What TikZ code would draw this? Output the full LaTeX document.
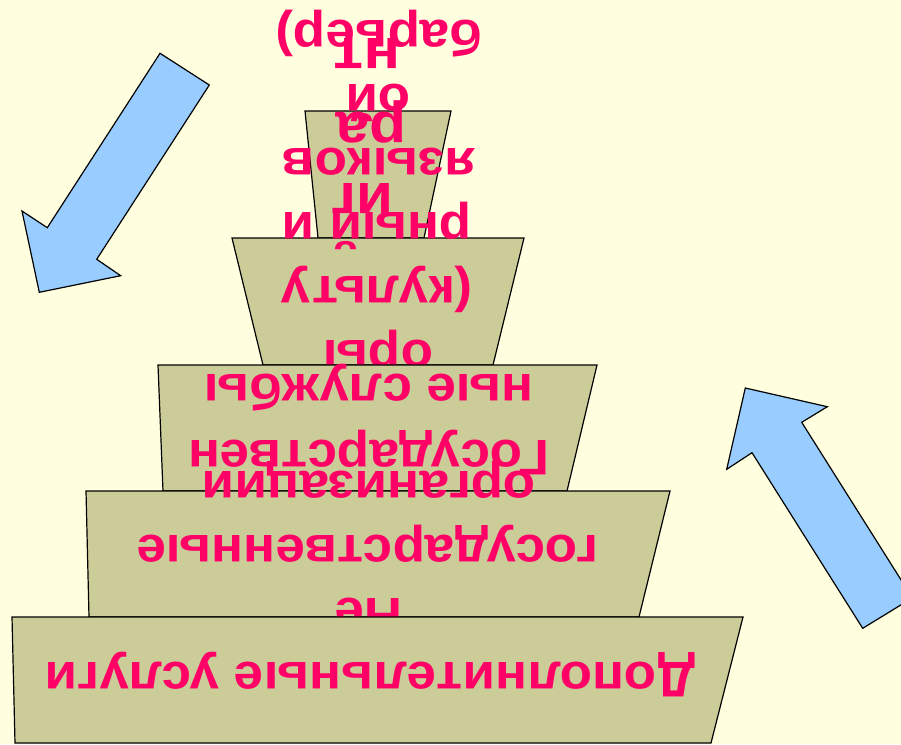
\documentclass[tikz,border=0pt]{standalone}
\usepackage{fontspec}
\setmainfont{Liberation Sans}[FakeStretch=1.06]
\definecolor{bgcol}{RGB}{255,255,224}
\definecolor{bandcol}{RGB}{204,204,153}
\definecolor{arrcol}{RGB}{153,204,255}
\definecolor{txtcol}{RGB}{255,0,102}
\begin{document}
\begin{tikzpicture}[x=1pt,y=-1pt,
  bandbox/.style={draw=black,line width=1.2pt,fill=bandcol,line join=miter},
  arrowbox/.style={draw=black,line width=1.2pt,fill=arrcol,line join=miter},
  lbl/.style={text=txtcol,font=\fontsize{50}{60}\selectfont\bfseries,rotate=180,anchor=base,inner sep=0pt},
  biglbl/.style={lbl,font=\fontsize{57}{68}\selectfont\bfseries}]
\fill[bgcol] (0,0) rectangle (901,744);
\useasboundingbox (0,0) rectangle (901,744);
\clip (0,0) rectangle (901,744);
% band 5 (top)
\draw[bandbox] (305,111) -- (451,111) -- (424,238) -- (318,238) -- cycle;
\node[biglbl] (t5a) at (362,183) {иг};
\node[biglbl] (t5b) at (371,112) {ра};
\node[biglbl] (t5c) at (367,38) {нт};
% band 4
\draw[bandbox] (232,238) -- (524,238) -- (493,365) -- (263,365) -- cycle;
\node[lbl] (t4a) at (378,340) {оры};
\node[lbl] (t4b) at (377,276) {(культу};
\node[lbl] (t4c) at (377,212) {рный и};
\node[lbl] (t4d) at (379,148) {языков};
\node[lbl] (t4e) at (378,84) {ой};
\node[lbl] (t4f) at (379,20) {барьер)};
% band 3
\draw[bandbox] (158,365) -- (597,365) -- (567,491) -- (163,491) -- cycle;
\node[lbl] (t3a) at (369,440) {Государствен};
\node[lbl] (t3b) at (369,374) {ные службы};
% band 2
\draw[bandbox] (86,491) -- (670,491) -- (639,617) -- (89,617) -- cycle;
\node[lbl] (t2a) at (369,598) {Не};
\node[lbl] (t2b) at (368,535) {государственные};
\node[lbl] (t2c) at (369,471) {организации};
% band 1
\draw[bandbox] (12,617) -- (743,617) -- (711,743) -- (15,743) -- cycle;
\node[lbl] (t1a) at (370,662) {Дополнительные услуги};
% arrows
\draw[arrowbox] (160,53.3) -- (209.3,85) -- (96.7,259.3) -- (120.7,275.7) -- (39.3,292.3) -- (22,211) -- (47.3,227.7) -- cycle;
\draw[arrowbox] (745.3,388) -- (827.3,406.7) -- (801.7,422.3) -- (912.4,597.9) -- (862.7,628.3) -- (752,452.7) -- (726.7,469.3) -- cycle;
\end{tikzpicture}
\end{document}
